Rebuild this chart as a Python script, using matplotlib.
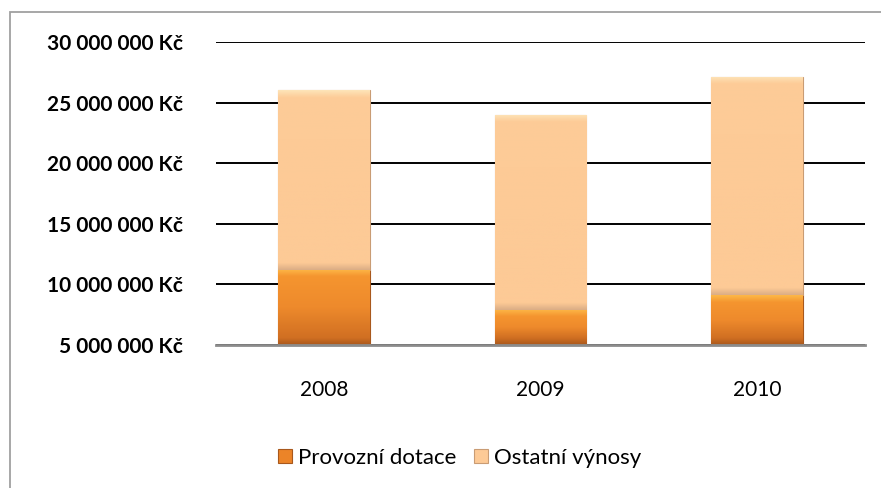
import numpy as np
import matplotlib.pyplot as plt
from matplotlib.patches import Rectangle
from matplotlib.colors import LinearSegmentedColormap
from matplotlib.ticker import FuncFormatter

years = ['2008', '2009', '2010']
provozni_dotace = [11200000, 7900000, 9100000]
ostatni_vynosy = [14800000, 16100000, 18050000]
yticks = [5000000, 10000000, 15000000, 20000000, 25000000, 30000000]
ymin, ymax = 5000000, 30000000

plt.rcParams['font.family'] = ['Lato', 'DejaVu Sans']

fig = plt.figure(figsize=(8.81, 4.88), dpi=100)
ax_h = 303
ax = fig.add_axes([216/881, 1-345/488, 649/881, ax_h/488])

# outer chart frame
fig.patches.append(Rectangle((10/881, -0.05), 1.2, 1-12.5/488+0.05, transform=fig.transFigure,
                             fill=False, edgecolor='#a0a0a0', linewidth=1.3))

x = range(len(years))
b1 = ax.bar(x, provozni_dotace, width=0.425, color='#ec8428', edgecolor='#a8581c', linewidth=0.8,
            label='Provozní dotace', zorder=3)
b2 = ax.bar(x, ostatni_vynosy, width=0.425, bottom=provozni_dotace, color='#fdca96',
            edgecolor='#c99c74', linewidth=0.8, label='Ostatní výnosy', zorder=3)

# bevel-like shading inside the bars (only the visible part above the axis minimum)
styles = [(b1, ['#a9581c', '#d06f22', '#ee8a2c', '#f5952f', '#fdb848']),
          (b2, ['#dcae86', '#fdca96', '#fdca96', '#fdcc98', '#fde4b8'])]
grad = np.linspace(0, 1, 256).reshape(-1, 1)
for bars, cols in styles:
    for p in bars:
        x0 = p.get_x()
        y0 = max(p.get_y(), ymin)
        y1 = p.get_y() + p.get_height()
        px = (y1 - y0) / (ymax - ymin) * ax_h
        f = min(7.0 / px, 0.3)
        cm = LinearSegmentedColormap.from_list('b', list(zip([0, f, 0.5, 1 - f, 1], cols)))
        im = ax.imshow(grad, cmap=cm, origin='lower', aspect='auto', zorder=3.5,
                       extent=[x0, x0 + p.get_width(), y0, y1])
        im.set_clip_path(p)

ax.set_xlim(-0.5, 2.5)
ax.set_ylim(ymin, ymax)
ax.set_yticks(yticks)
ax.yaxis.set_major_formatter(FuncFormatter(lambda v, p: '{:,.0f} Kč'.format(v).replace(',', ' ')))
ax.set_xticks(list(x))
ax.set_xticklabels(years)
for t in ax.get_yticklabels():
    t.set_fontweight('bold')
ax.tick_params(axis='y', length=0, pad=24, labelsize=15)
ax.tick_params(axis='x', length=0, pad=25, labelsize=15)

ax.grid(axis='y', color='black', linewidth=1.4, zorder=0)
for s in ['top', 'right', 'left']:
    ax.spines[s].set_visible(False)
ax.spines['bottom'].set_color('#8c8c8c')
ax.spines['bottom'].set_linewidth(2)
ax.spines['bottom'].set_zorder(4)

ax.legend(loc='center', bbox_to_anchor=(460/881, 1-458/488), bbox_transform=fig.transFigure,
          ncol=2, frameon=False, fontsize=16, handlelength=0.6, handleheight=0.6,
          handletextpad=0.3, columnspacing=0.8)

fig.savefig('out.png', dpi=100)
